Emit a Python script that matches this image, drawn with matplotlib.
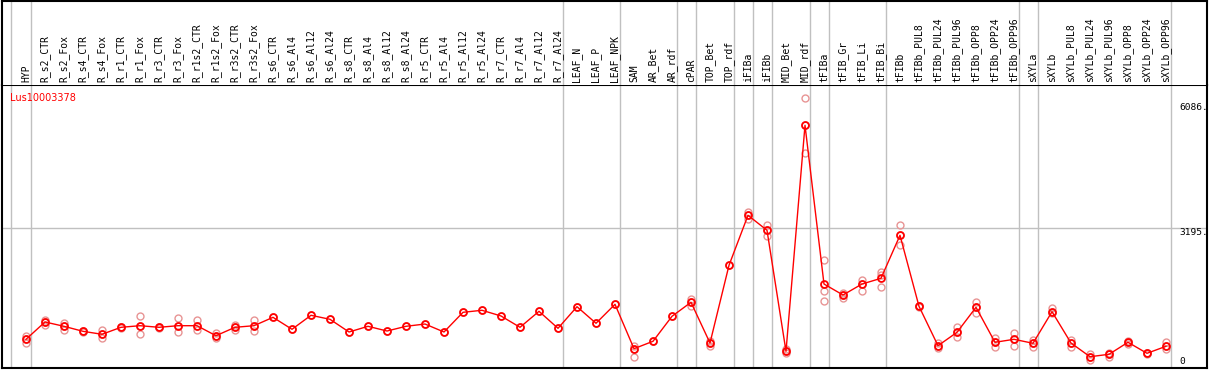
import matplotlib.pyplot as plt

# ---- data
labels = ["HYP", "R_s2_CTR", "R_s2_Fox", "R_s4_CTR", "R_s4_Fox", "R_r1_CTR", "R_r1_Fox",
          "R_r3_CTR", "R_r3_Fox", "R_r1s2_CTR", "R_r1s2_Fox", "R_r3s2_CTR", "R_r3s2_Fox",
          "R_s6_CTR", "R_s6_Al4", "R_s6_Al12", "R_s6_Al24", "R_s8_CTR", "R_s8_Al4",
          "R_s8_Al12", "R_s8_Al24", "R_r5_CTR", "R_r5_Al4", "R_r5_Al12", "R_r5_Al24",
          "R_r7_CTR", "R_r7_Al4", "R_r7_Al12", "R_r7_Al24", "LEAF_N", "LEAF_P", "LEAF_NPK",
          "SAM", "AR_Bet", "AR_rdf", "cPAR", "TOP_Bet", "TOP_rdf", "iFIBa", "iFIBb",
          "MID_Bet", "MID_rdf", "tFIBa", "tFIB_Gr", "tFIB_Li", "tFIB_Bi", "tFIBb",
          "tFIBb_PUL8", "tFIBb_PUL24", "tFIBb_PUL96", "tFIBb_OPP8", "tFIBb_OPP24",
          "tFIBb_OPP96", "sXYLa", "sXYLb", "sXYLb_PUL8", "sXYLb_PUL24", "sXYLb_PUL96",
          "sXYLb_OPP8", "sXYLb_OPP24", "sXYLb_OPP96"]

means = [618, 1019, 919, 803, 734, 896, 933, 896, 933, 933, 701, 896, 933,
         1127, 850, 1174, 1081, 787, 919, 810, 919, 972, 787, 1243, 1290,
         1158, 896, 1266, 873, 1373, 989, 1428,
         401, 572, 1151, 1475, 532, 2331, 3489, 3142, 340, 5573,
         1898, 1644, 1898, 2030, 3026, 1382, 470, 780, 1359, 549, 618,
         526, 1257, 532, 215, 271, 549, 294, 456]

reps = [[695, 618, 539], [1065, 1019, 956], [1002, 919, 833], [820, 803, 790], [833, 734, 648],
        [910, 896, 880], [1158, 933, 741], [910, 896, 880], [1104, 933, 780], [1065, 933, 833],
        [757, 701, 648], [956, 896, 840], [1065, 933, 817], [1127], [850], [1174], [1081],
        [787], [919], [810], [919], [972], [787], [1243], [1290], [1158], [896], [1266],
        [873], [1373], [989], [1428],
        [470, 401, 201], [572], [1151], [1551, 1475, 1389], [586, 532, 463], [2331],
        [3565, 3489, 3410], [3264, 3142, 3017], [387, 340, 294], [6198, 5573, 4924],
        [2447, 1729, 1505], [1683, 1644, 1567], [1991, 1898, 1743], [2176, 2107, 1822],
        [3257, 3026, 2794], [1400, 1382, 1365], [526, 470, 410], [896, 780, 664],
        [1475, 1359, 1220], [641, 549, 447], [757, 618, 470],
        [602, 526, 447], [1343, 1257, 1220], [602, 532, 447], [278, 215, 139],
        [294, 271, 215], [580, 549, 520], [310, 294, 280], [549, 456, 387]]

group_ends = [0, 28, 31, 34, 35, 37, 38, 39, 41, 42, 45, 52, 53, 60]
yticks = [6086, 3195, 0]
gene = "Lus10003378"

# ---- layout (pixel based)
W, H = 1209, 370
fig = plt.figure(figsize=(W / 100, H / 100), dpi=100)
fig.patch.set_facecolor("white")

x0, x1 = 2, 1207
ax = fig.add_axes([x0 / W, (H - 368) / H, (x1 - x0) / W, (368 - 85) / H])
hx = fig.add_axes([x0 / W, (H - 85) / H, (x1 - x0) / W, 84.5 / H])

xlim = ((x0 - 26) / 19, (x1 - 26) / 19)
sc = 138 / 3195.0
ylim = ((366 - 368) / sc, (366 - 85) / sc)

for a in (ax, hx):
    a.set_xlim(*xlim)
    a.set_xticks([])
    a.set_yticks([])
    for s in a.spines.values():
        s.set_color("black")
        s.set_linewidth(1.5)
    a.axvline(-0.79, color="#c0c0c0", lw=1, zorder=0)
    for e in group_ends:
        a.axvline(e + 0.25, color="#c0c0c0", lw=1, zorder=0)

hx.set_ylim(0, 1)
hx.spines["bottom"].set_visible(False)
ax.set_ylim(*ylim)

ax.axhline(3195, color="#c0c0c0", lw=1, zorder=0)

# replicates
for i, r in enumerate(reps):
    ax.plot([i] * len(r), r, "o", ms=5, mfc="none", mec="#e89494", mew=1, zorder=2)

# mean line
idx = list(range(len(means)))
ax.plot(idx, means, "-", color="red", lw=1, zorder=3)
ax.plot(idx, means, "o", ms=5, mfc="none", mec="red", mew=1.3, zorder=4)

# header labels
for i, lab in enumerate(labels):
    hx.text(i, 0.03, lab, rotation=90, ha="center", va="bottom",
            family="DejaVu Sans Mono", fontsize=7, color="black")

# right-side value labels
tx = (1179 - x0) / (x1 - x0)
for v in yticks:
    ax.text(tx, v, "%d." % v if v else "0", transform=ax.get_yaxis_transform(),
            ha="left", va="top" if v else "bottom",
            family="DejaVu Sans Mono", fontsize=6.8, color="black")

ax.text((10 - x0) / (x1 - x0), (368 - 93) / 283, gene, transform=ax.transAxes,
        ha="left", va="top", fontsize=7, color="red")

fig.savefig("out.png", dpi=100)
